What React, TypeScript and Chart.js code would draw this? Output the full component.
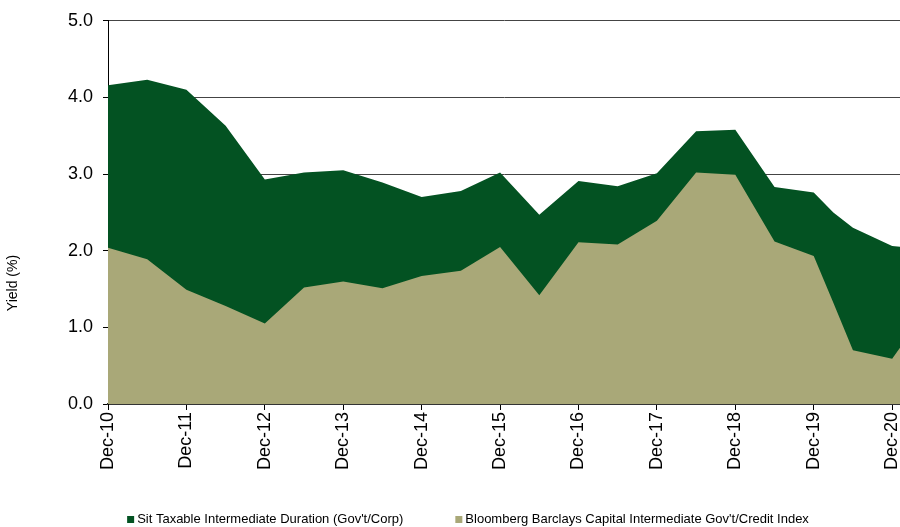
import React, { useEffect, useRef } from 'react';
import { Chart, registerables } from 'chart.js';

Chart.register(...registerables);

// ---- data ----
const periods = [
  'Dec-10', 'Jun-11', 'Dec-11', 'Jun-12', 'Dec-12', 'Jun-13', 'Dec-13', 'Jun-14',
  'Dec-14', 'Jun-15', 'Dec-15', 'Jun-16', 'Dec-16', 'Jun-17', 'Dec-17', 'Jun-18',
  'Dec-18', 'Jun-19', 'Dec-19', 'Mar-20', 'Jun-20', 'Dec-20', 'Mar-21',
];
const sitYield = [
  4.16, 4.23, 4.10, 3.63, 2.93, 3.02, 3.05, 2.89,
  2.70, 2.78, 3.02, 2.47, 2.91, 2.84, 3.01, 3.56,
  3.58, 2.83, 2.76, 2.50, 2.30, 2.06, 2.04,
];
const bloombergYield = [
  2.04, 1.89, 1.49, 1.28, 1.05, 1.52, 1.60, 1.51,
  1.67, 1.74, 2.05, 1.42, 2.11, 2.08, 2.39, 3.02,
  2.99, 2.12, 1.93, 1.32, 0.70, 0.59, 0.95,
];
const tickLabels = [
  'Dec-10', 'Dec-11', 'Dec-12', 'Dec-13', 'Dec-14', 'Dec-15',
  'Dec-16', 'Dec-17', 'Dec-18', 'Dec-19', 'Dec-20',
];
const sitName = "Sit Taxable Intermediate Duration (Gov't/Corp)";
const bloombergName = "Bloomberg Barclays Capital Intermediate Gov't/Credit Index";
const yAxisTitle = 'Yield (%)';

const SIT_COLOR = '#035222';
const BBG_COLOR = '#a9a878';
const FONT = '"Liberation Sans", Arial, sans-serif';

const MONTHS: Record<string, number> = {
  Jan: 0, Feb: 1, Mar: 2, Apr: 3, May: 4, Jun: 5,
  Jul: 6, Aug: 7, Sep: 8, Oct: 9, Nov: 10, Dec: 11,
};
// years since Dec-10
const toX = (label: string) => {
  const [m, yy] = label.split('-');
  return 2000 + Number(yy) - 2010 + (MONTHS[m] - 11) / 12;
};

const legendPlugin = {
  id: 'bottomLegend',
  afterDraw(chart: any) {
    const ctx = chart.ctx as CanvasRenderingContext2D;
    const items = [...chart.data.datasets].reverse();
    ctx.save();
    ctx.font = `13px ${FONT}`;
    ctx.textBaseline = 'middle';
    const box = 7;
    const textGap = 3;
    const itemGap = 52;
    const widths = items.map((d: any) => ctx.measureText(d.label).width);
    const total = widths.reduce((a: number, w: number) => a + box + textGap + w, 0) + itemGap * (items.length - 1);
    let x = 468 - total / 2;
    const y = 519.5;
    items.forEach((d: any, i: number) => {
      ctx.fillStyle = d.backgroundColor;
      ctx.fillRect(x, y - 3.5, box, box);
      ctx.fillStyle = '#000';
      ctx.fillText(d.label, x + box + textGap, y);
      x += box + textGap + widths[i] + itemGap;
    });
    // y-axis title
    ctx.save();
    ctx.font = `14px ${FONT}`;
    ctx.textAlign = 'center';
    ctx.textBaseline = 'middle';
    ctx.translate(13.5, 283);
    ctx.rotate(-Math.PI / 2);
    ctx.fillText(yAxisTitle, 0, 0);
    ctx.restore();
    ctx.restore();
  },
};

export default function App() {
  const canvasRef = useRef<HTMLCanvasElement>(null);

  useEffect(() => {
    document.body.style.margin = '0';
    const canvas = canvasRef.current;
    if (!canvas) return;
    const chart = new Chart(canvas, {
      type: 'line',
      data: {
        datasets: [
          {
            label: bloombergName,
            data: periods.map((p, i) => ({ x: toX(p), y: bloombergYield[i] })),
            backgroundColor: BBG_COLOR,
            borderColor: BBG_COLOR,
            borderWidth: 0,
            pointRadius: 0,
            fill: 'origin',
            tension: 0,
          },
          {
            label: sitName,
            data: periods.map((p, i) => ({ x: toX(p), y: sitYield[i] })),
            backgroundColor: SIT_COLOR,
            borderColor: SIT_COLOR,
            borderWidth: 0,
            pointRadius: 0,
            fill: 'origin',
            tension: 0,
          },
        ],
      },
      options: {
        animation: false,
        responsive: false,
        layout: { padding: { top: 20, bottom: 53, left: 0, right: 0 } },
        plugins: {
          legend: { display: false },
          tooltip: { enabled: false },
        },
        scales: {
          x: {
            type: 'linear',
            min: 0,
            max: 10.1,
            afterFit: (s: any) => {
              s.paddingRight = 0;
              s.paddingLeft = 0;
              s.height = 70;
            },
            ticks: {
              stepSize: 1,
              includeBounds: false,
              autoSkip: false,
              maxRotation: 90,
              minRotation: 90,
              padding: 2,
              color: '#000',
              font: { family: FONT, size: 18 },
              callback: (v: any) => tickLabels[Math.round(Number(v))] ?? '',
            },
            grid: { drawOnChartArea: false, tickLength: 6, tickColor: '#000' },
            border: { color: '#333', width: 2 },
          },
          y: {
            min: 0,
            max: 5,
            afterFit: (s: any) => {
              s.width = 108;
            },
            ticks: {
              stepSize: 1,
              padding: 10,
              color: '#000',
              font: { family: FONT, size: 18 },
              callback: (v: any) => Number(v).toFixed(1),
            },
            grid: { color: '#444', tickLength: 5, tickColor: '#000' },
            border: { color: '#000', width: 1 },
          },
        },
      },
      plugins: [legendPlugin],
    });
    return () => chart.destroy();
  }, []);

  return (
    <div style={{ width: 900, height: 527, overflow: 'hidden' }}>
      <canvas ref={canvasRef} width={900} height={527} style={{ display: 'block' }} />
    </div>
  );
}
